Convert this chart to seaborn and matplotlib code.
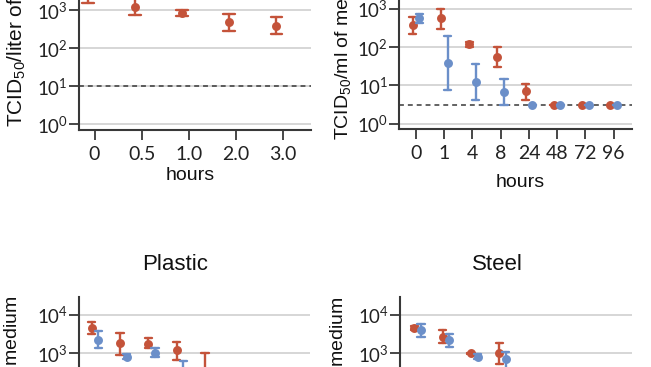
import numpy as np
import pandas as pd
import matplotlib
matplotlib.use("Agg")
import matplotlib.pyplot as plt
import seaborn as sns
from matplotlib.ticker import FixedLocator, NullLocator, FuncFormatter
from matplotlib import font_manager as fm

# ---------------- data (log10 TCID50 values) ----------------
viruses = ["SARS-CoV-2", "SARS-CoV-1"]

aerosol_hours = ["0", "0.5", "1.0", "2.0", "3.0"]
aerosol_cov2_mid = [3.45, 3.10, 2.93, 2.68, 2.60]
aerosol_cov2_lo = [3.19, 2.88, 2.85, 2.46, 2.38]
aerosol_cov2_hi = [3.70, 3.35, 3.02, 2.89, 2.82]
aerosol_cov1_mid = [4.30, 4.05, 3.95, 3.85, 3.70]
aerosol_cov1_lo = [4.10, 3.85, 3.75, 3.65, 3.45]
aerosol_cov1_hi = [4.50, 4.25, 4.15, 4.05, 3.95]

card_hours = ["0", "1", "4", "8", "24", "48", "72", "96"]
card_cov2_mid = [2.58, 2.76, 2.08, 1.75, 0.85, 0.50, 0.50, 0.50]
card_cov2_lo = [2.36, 2.49, 2.00, 1.49, 0.62, 0.50, 0.50, 0.50]
card_cov2_hi = [2.80, 2.99, 2.14, 2.00, 1.05, 0.50, 0.50, 0.50]
card_cov1_mid = [2.76, 1.58, 1.09, 0.84, 0.50, 0.50, 0.50, 0.50]
card_cov1_lo = [2.63, 0.88, 0.62, 0.50, 0.50, 0.50, 0.50, 0.50]
card_cov1_hi = [2.88, 2.29, 1.55, 1.16, 0.50, 0.50, 0.50, 0.50]

plastic_hours = ["0", "1", "4", "8", "24", "48", "72", "96"]
plastic_cov2_mid = [3.65, 3.26, 3.24, 3.09, 2.40, 1.60, 1.10, 0.50]
plastic_cov2_lo = [3.50, 2.96, 3.13, 2.83, 1.80, 1.20, 0.70, 0.50]
plastic_cov2_hi = [3.83, 3.52, 3.39, 3.30, 3.02, 2.00, 1.50, 0.50]
plastic_cov1_mid = [3.35, 2.91, 3.00, 2.30, 1.50, 0.90, 0.50, 0.50]
plastic_cov1_lo = [3.13, 2.84, 2.90, 1.80, 1.00, 0.50, 0.50, 0.50]
plastic_cov1_hi = [3.57, 2.97, 3.13, 2.81, 2.00, 1.30, 0.50, 0.50]

steel_hours = ["0", "1", "4", "8", "24", "48", "72", "96"]
steel_cov2_mid = [3.67, 3.43, 3.00, 3.00, 2.00, 1.30, 0.80, 0.50]
steel_cov2_lo = [3.62, 3.26, 2.98, 2.72, 1.60, 0.90, 0.50, 0.50]
steel_cov2_hi = [3.71, 3.60, 3.02, 3.28, 2.40, 1.70, 1.10, 0.50]
steel_cov1_mid = [3.60, 3.35, 2.91, 2.85, 1.80, 1.20, 0.50, 0.50]
steel_cov1_lo = [3.42, 3.17, 2.84, 2.40, 1.40, 0.80, 0.50, 0.50]
steel_cov1_hi = [3.76, 3.50, 2.98, 3.04, 2.20, 1.60, 0.50, 0.50]

RED = "#c4533a"
BLUE = "#6b8fc9"
DARK = "#383838"
GRID = "#d6d6d6"

# ---------------- fonts ----------------
sns.set_theme(style="white")
names = {f.name for f in fm.fontManager.ttflist}
LABEL_FONT = "Liberation Sans"
TICK_FONT = "Lato" if "Lato" in names else "DejaVu Sans"
plt.rcParams["font.family"] = [LABEL_FONT, "DejaVu Sans"]
plt.rcParams["mathtext.fontset"] = "custom"
plt.rcParams["mathtext.rm"] = LABEL_FONT
plt.rcParams["mathtext.it"] = LABEL_FONT + ":italic"
plt.rcParams["mathtext.sf"] = TICK_FONT

W, H = 651, 367
fig = plt.figure(figsize=(W / 100, H / 100), dpi=100)


def long_df(hours, m2, l2, h2, m1, l1, h1):
    rows = []
    for virus, mids, los, his in ((viruses[0], m2, l2, h2), (viruses[1], m1, l1, h1)):
        for hr, m, lo, hi in zip(hours, mids, los, his):
            for v in (lo, m, hi):
                rows.append({"hours": hr, "virus": virus, "value": 10.0 ** v})
    return pd.DataFrame(rows)


def add_axes_px(left, right, ref_px, ref_dec, dec_px, ylo, yhi):
    """ref_px: pixel row (from top) of the decade ref_dec."""
    top_px = ref_px - (yhi - ref_dec) * dec_px
    bot_px = ref_px + (ref_dec - ylo) * dec_px
    return fig.add_axes([left / W, 1 - bot_px / H, (right - left) / W, (bot_px - top_px) / H])


def draw(ax, df, hours, dodge, xlim, ylim, decades, limit=None, xlabels=True):
    ax.set_yscale("log")
    ax.grid(True, color=GRID, linewidth=1.4)
    ax.set_axisbelow(True)
    if limit is not None:
        ax.axhline(10 ** limit, color=DARK, linestyle=(0, (3.2, 2.6)), linewidth=1.1, zorder=2)
    sns.pointplot(data=df, x="hours", y="value", hue="virus", order=hours,
                  hue_order=viruses, palette=[RED, BLUE], estimator="median",
                  errorbar=lambda v: (v.min(), v.max()), dodge=dodge,
                  linestyle="none", markers="o", markersize=4.4, capsize=0.25,
                  err_kws={"linewidth": 1.7}, legend=False, ax=ax)
    ax.set_xlim(*xlim)
    ax.set_ylim(10 ** ylim[0], 10 ** ylim[1])
    ax.yaxis.set_major_locator(FixedLocator([10.0 ** d for d in decades]))
    ax.yaxis.set_minor_locator(NullLocator())
    ax.yaxis.set_major_formatter(FuncFormatter(
        lambda v, p: r"$\mathsf{10^{%d}}$" % int(round(np.log10(v)))))
    ax.set_xlabel("")
    ax.set_ylabel("")
    sns.despine(ax=ax)
    for s in ("left", "bottom"):
        ax.spines[s].set_color(DARK)
        ax.spines[s].set_linewidth(1.5)
    ax.tick_params(axis="x", direction="out", length=7.5, width=1.3, color=DARK,
                   pad=4, labelsize=14, labelcolor="#222222", bottom=True,
                   labelbottom=xlabels)
    ax.tick_params(axis="y", direction="out", length=7, width=1.3, color=DARK,
                   pad=1, labelsize=13.5, labelcolor="#222222", left=True)
    for lab in ax.get_xticklabels():
        lab.set_fontfamily(TICK_FONT)
    for lab in ax.get_yticklabels():
        lab.set_fontfamily(TICK_FONT)


# top-left: aerosol
ax1 = add_axes_px(79, 311, 124.3, 0, 38.0, -0.15, 4.7)
draw(ax1, long_df(aerosol_hours, aerosol_cov2_mid, aerosol_cov2_lo, aerosol_cov2_hi,
                  aerosol_cov1_mid, aerosol_cov1_lo, aerosol_cov1_hi),
     aerosol_hours, 0.27, (-0.33, 4.6), (-0.15, 4.7), [0, 1, 2, 3], limit=1.0)

# top-right
ax2 = add_axes_px(399.3, 631.7, 123.7, 0, 38.2, -0.14, 4.7)
draw(ax2, long_df(card_hours, card_cov2_mid, card_cov2_lo, card_cov2_hi,
                  card_cov1_mid, card_cov1_lo, card_cov1_hi),
     card_hours, 0.235, (-0.59, 7.64), (-0.14, 4.7), [0, 1, 2, 3], limit=0.5)

# bottom-left: plastic
ax3 = add_axes_px(79, 310, 315.0, 4, 38.3, -0.5, 4.46)
draw(ax3, long_df(plastic_hours, plastic_cov2_mid, plastic_cov2_lo, plastic_cov2_hi,
                  plastic_cov1_mid, plastic_cov1_lo, plastic_cov1_hi),
     plastic_hours, 0.235, (-0.565, 7.59), (-0.5, 4.46), [0, 1, 2, 3, 4],
     limit=0.5, xlabels=False)
ax3.yaxis.set_major_formatter(FuncFormatter(
    lambda v, p: r"$\mathsf{10^{%d}}$" % int(round(np.log10(v))) if v >= 1e3 else ""))

# bottom-right: steel
ax4 = add_axes_px(400, 631.7, 315.0, 4, 38.3, -0.5, 4.46)
draw(ax4, long_df(steel_hours, steel_cov2_mid, steel_cov2_lo, steel_cov2_hi,
                  steel_cov1_mid, steel_cov1_lo, steel_cov1_hi),
     steel_hours, 0.235, (-0.625, 7.56), (-0.5, 4.46), [0, 1, 2, 3, 4],
     limit=0.5, xlabels=False)
ax4.yaxis.set_major_formatter(FuncFormatter(
    lambda v, p: r"$\mathsf{10^{%d}}$" % int(round(np.log10(v))) if v >= 1e3 else ""))

# ---------------- texts ----------------
def ftext(x, y, s, **kw):
    fig.text(x / W, 1 - y / H, s, **kw)

ftext(190, 175, "hours", ha="center", va="center", fontsize=14, color="#111111")
ftext(520, 183, "hours", ha="center", va="center", fontsize=14, color="#111111")
ftext(17, 127, r"TCID$_{\mathrm{50}}$/liter of air", rotation=90, ha="center",
      va="bottom", fontsize=15, color="#111111")
ftext(343, 140, r"TCID$_{\mathrm{50}}$/ml of medium", rotation=90, ha="center",
      va="bottom", fontsize=14, color="#111111")
ftext(12, 295, r"TCID$_{\mathrm{50}}$/ml of medium", rotation=90, ha="center",
      va="top", fontsize=14, color="#111111")
ftext(338, 296, r"TCID$_{\mathrm{50}}$/ml of medium", rotation=90, ha="center",
      va="top", fontsize=14, color="#111111")
ftext(175, 264, "Plastic", ha="center", va="center", fontsize=16, color="#111111")
ftext(497, 264, "Steel", ha="center", va="center", fontsize=16, color="#111111")

fig.savefig("out.png", dpi=100)
